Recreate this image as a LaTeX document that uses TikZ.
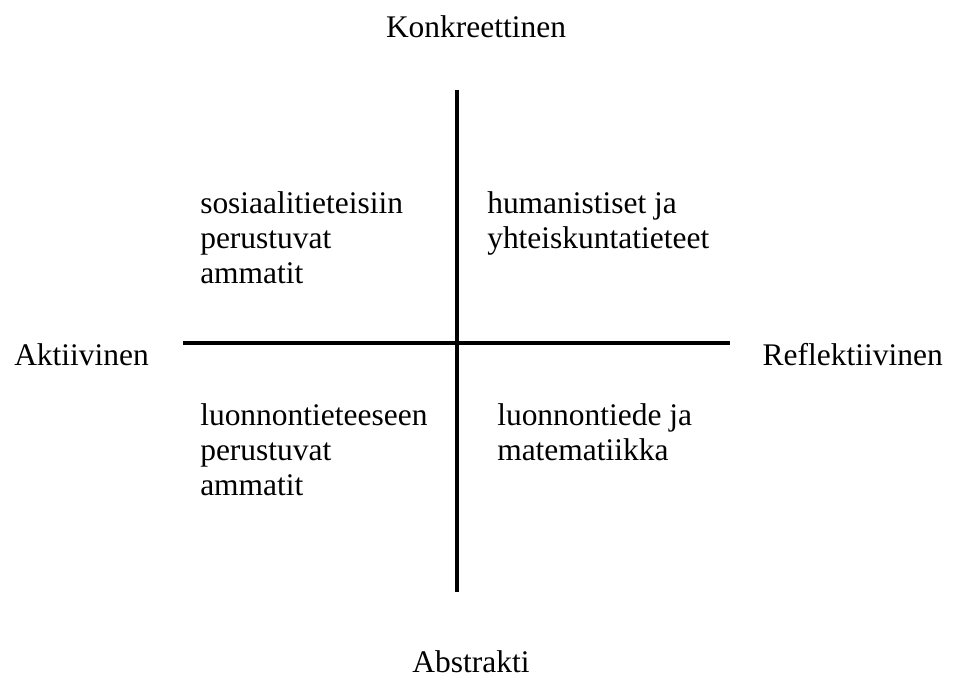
\documentclass[tikz,border=0pt]{standalone}
\usepackage{fontspec}
\setmainfont{Liberation Serif}
\begin{document}
\begin{tikzpicture}[x=0.75pt,y=-0.75pt,
  lbl/.style={inner sep=0pt, font=\fontsize{23.6}{26.25}\selectfont},
  blk/.style={lbl, anchor=base west, align=left},
  axis/.style={line width=2.6pt}]
\useasboundingbox (0,0) rectangle (953,678);
\coordinate (vtop) at (457,90);
\coordinate (vbot) at (457,592);
\coordinate (hl) at (183,343);
\coordinate (hr) at (730,343);
\draw[axis] (vtop) -- (vbot);
\draw[axis] (hl) -- (hr);
\node[lbl, anchor=base] (konk) at (476,37) {Konkreettinen};
\node[lbl, anchor=base] (abs) at (471,672) {Abstrakti};
\node[lbl, anchor=base west] (akt) at (14,365) {Aktiivinen};
\node[lbl, anchor=base east] (ref) at (943,365) {Reflektiivinen};
\node[blk] (tl) at (200,283) {sosiaalitieteisiin\\perustuvat\\ammatit};
\node[blk] (tr) at (487,248) {humanistiset ja\\yhteiskuntatieteet};
\node[blk] (bl) at (200,495) {luonnontieteeseen\\perustuvat\\ammatit};
\node[blk] (br) at (497,460) {luonnontiede ja\\matematiikka};
\end{tikzpicture}
\end{document}
